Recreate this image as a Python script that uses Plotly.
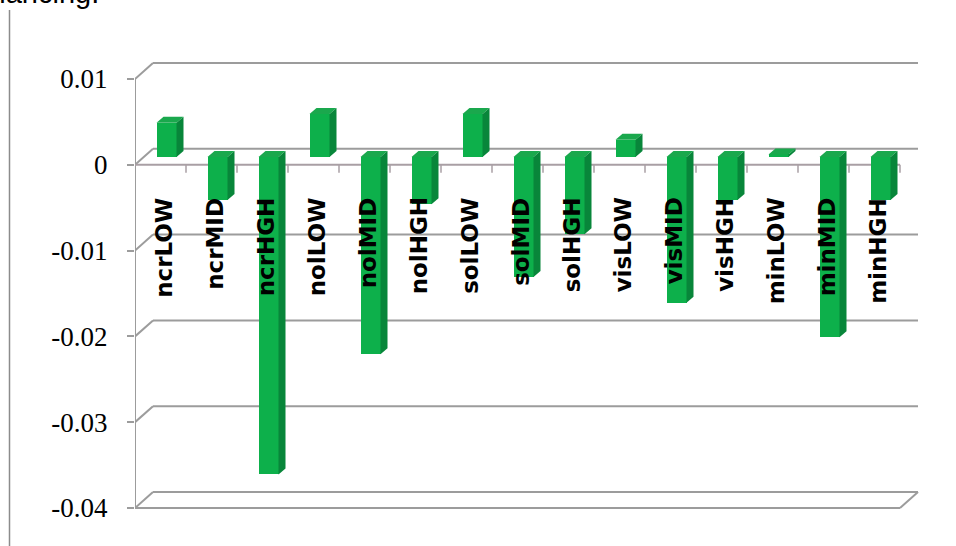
import plotly.graph_objects as go

# Category names and the measured change for each group
categories = ["ncrLOW", "ncrMID", "ncrHGH", "nolLOW", "nolMID", "nolHGH",
              "solLOW", "solMID", "solHGH", "visLOW", "visMID", "visHGH",
              "minLOW", "minMID", "minHGH"]
values = [0.004, -0.005, -0.037, 0.005, -0.023, -0.0055,
          0.005, -0.014, -0.009, 0.002, -0.017, -0.005,
          0.0003, -0.021, -0.005]
tick_values = [0.01, 0, -0.01, -0.02, -0.03, -0.04]
tick_text = ["0.01", "0", "-0.01", "-0.02", "-0.03", "-0.04"]

# Canvas and plot-area geometry (pixels)
FIG_W, FIG_H = 956, 546
L, R, T, B = 135, 920, 55, 515
PW, PH = R - L, B - T
CAT_PX = 51.0            # width of one category slot
PX_PER_UNIT = 8580.0     # pixels per unit on the value axis
Y_TOP = 0.01 + (79 - T) / PX_PER_UNIT
Y_BOT = Y_TOP - PH / PX_PER_UNIT
X_LO = -0.5
X_HI = X_LO + PW / CAT_PX
X_FRONT_END = X_LO + len(categories)

# Perspective depth of the walls and of the bars
WALL_DX, WALL_DY = 18, 16      # px
BAR_SHIFT = 7.8 / PX_PER_UNIT  # bar baseline sits a little behind the front plane
BAR_W = 20 / CAT_PX
BAR_OFF = 6 / CAT_PX - BAR_W / 2
FACE_DX = 7 / CAT_PX
FACE_DY = 6 / PX_PER_UNIT

GRID = "#9c9c9c"
FRONT = "#0DB04B"
TOP = "#1AA84D"
SIDE = "#08863A"


def paper_x(px):
    return (px - L) / PW


def paper_y(py):
    return (B - py) / PH


idx = list(range(len(categories)))

fig = go.Figure()
fig.add_trace(go.Bar(
    x=idx, y=values, yaxis="y2", width=BAR_W, offset=BAR_OFF,
    marker=dict(color=FRONT, line=dict(width=0)),
    hoverinfo="skip", showlegend=False,
))

shapes = []
wall_dx_units = WALL_DX / CAT_PX

# Back-wall gridlines and the diagonals joining them to the front axis
for v in tick_values:
    shapes.append(dict(type="line", xref="paper", yref="y", ysizemode="pixel",
                       yanchor=v, x0=paper_x(L + WALL_DX), x1=paper_x(R - 2),
                       y0=WALL_DY, y1=WALL_DY,
                       line=dict(color=GRID, width=2), layer="below"))
    shapes.append(dict(type="line", xref="x", yref="y", ysizemode="pixel",
                       yanchor=v, x0=X_LO, x1=X_LO + wall_dx_units,
                       y0=0, y1=WALL_DY,
                       line=dict(color=GRID, width=2), layer="below"))

# Front edge of the side wall
shapes.append(dict(type="line", xref="x", yref="y", x0=X_LO, x1=X_LO,
                   y0=tick_values[-1], y1=tick_values[0],
                   line=dict(color=GRID, width=2), layer="below"))
# Front edge of the floor and its right-hand corner
shapes.append(dict(type="line", xref="x", yref="y", x0=X_LO, x1=X_FRONT_END,
                   y0=tick_values[-1], y1=tick_values[-1],
                   line=dict(color=GRID, width=2), layer="below"))
shapes.append(dict(type="line", xref="x", yref="y", ysizemode="pixel",
                   yanchor=tick_values[-1], x0=X_FRONT_END,
                   x1=X_FRONT_END + wall_dx_units, y0=0, y1=WALL_DY,
                   line=dict(color=GRID, width=2), layer="below"))
# Category axis at zero with its tick marks
shapes.append(dict(type="line", xref="x", yref="y", x0=X_LO, x1=X_FRONT_END,
                   y0=0, y1=0, line=dict(color="#a99fa4", width=2),
                   layer="below"))
for k in range(1, len(categories) + 1):
    shapes.append(dict(type="line", xref="x", yref="y", ysizemode="pixel",
                       yanchor=0, x0=X_LO + k, x1=X_LO + k, y0=0, y1=-8,
                       line=dict(color="#a99fa4", width=1.5), layer="below"))

# Top and side faces giving each bar its depth
for i, v in enumerate(values):
    xl = i + BAR_OFF
    xr = xl + BAR_W
    ytop = max(v, 0)
    shapes.append(dict(
        type="path", xref="x", yref="y2",
        path=(f"M {xl},{ytop} L {xl + FACE_DX},{ytop + FACE_DY} "
              f"L {xr + FACE_DX},{ytop + FACE_DY} L {xr},{ytop} Z"),
        fillcolor=TOP, line=dict(width=0), layer="above"))
    shapes.append(dict(
        type="path", xref="x", yref="y2",
        path=(f"M {xr},{0} L {xr + FACE_DX},{FACE_DY} "
              f"L {xr + FACE_DX},{v + FACE_DY} L {xr},{v} Z"),
        fillcolor=SIDE, line=dict(width=0), layer="above"))

# Page border line on the left
shapes.append(dict(type="line", xref="paper", yref="paper",
                   x0=paper_x(9.5), x1=paper_x(9.5),
                   y0=paper_y(10), y1=paper_y(FIG_H + 2),
                   line=dict(color="#8c8c8c", width=1.5)))

annotations = []
for i, name in enumerate(categories):
    annotations.append(dict(
        x=i + 0.07, y=0, xref="x", yref="y", yanchor="top", xanchor="center",
        yshift=-31, text=name, textangle=-90, showarrow=False,
        font=dict(family="DejaVu Sans", size=23, color="black", weight="bold"),
    ))
# Tail of the sentence running above the chart on the page
annotations.append(dict(
    x=paper_x(101), y=paper_y(11), xref="paper", yref="paper",
    xanchor="right", yanchor="bottom", text="balancing.", showarrow=False,
    font=dict(family="Liberation Sans", size=29, color="black"),
))

fig.update_layout(
    width=FIG_W, height=FIG_H,
    margin=dict(l=L, r=FIG_W - R, t=T, b=FIG_H - B),
    paper_bgcolor="white", plot_bgcolor="white",
    bargap=0,
    xaxis=dict(range=[X_LO, X_HI], visible=False, fixedrange=True),
    yaxis=dict(range=[Y_BOT, Y_TOP], tickvals=tick_values, ticktext=tick_text,
               showgrid=False, zeroline=False, showline=False,
               ticks="outside", ticklen=7, tickwidth=1.5, tickcolor=GRID,
               ticklabelstandoff=14,
               tickfont=dict(family="Liberation Serif", size=27, color="black")),
    yaxis2=dict(range=[Y_BOT - BAR_SHIFT, Y_TOP - BAR_SHIFT], overlaying="y",
                visible=False, fixedrange=True),
    shapes=shapes,
    annotations=annotations,
)

fig.write_html("out.html")
